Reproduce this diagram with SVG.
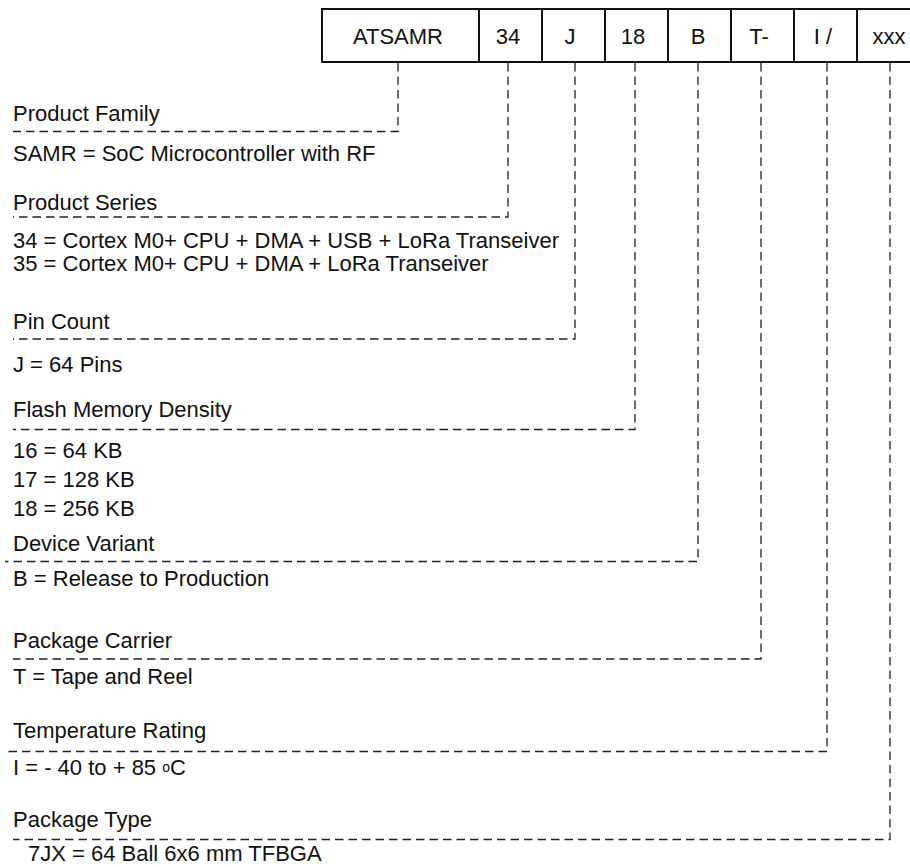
<svg xmlns="http://www.w3.org/2000/svg" width="910" height="867" viewBox="0 0 910 867">
<style>
  text { font-family: "Liberation Sans", Arial, sans-serif; font-size: 22px; fill: #111; }
  .box { fill: #fff; stroke: #111; stroke-width: 2; }
  .mid { text-anchor: middle; }
  .dash { fill: none; stroke: #222; stroke-width: 1.3; stroke-dasharray: 8.5 5; }
</style>
<rect width="910" height="867" fill="#fff"/>
<g id="code">
  <g id="seg-atsamr"><rect class="box" x="322" y="9" width="157" height="53"/><text class="mid" x="398" y="44">ATSAMR</text></g>
  <g id="seg-34"><rect class="box" x="479" y="9" width="63" height="53"/><text class="mid" x="508" y="44">34</text></g>
  <g id="seg-j"><rect class="box" x="542" y="9" width="63" height="53"/><text class="mid" x="570" y="44">J</text></g>
  <g id="seg-18"><rect class="box" x="605" y="9" width="63" height="53"/><text class="mid" x="633" y="44">18</text></g>
  <g id="seg-b"><rect class="box" x="668" y="9" width="63" height="53"/><text class="mid" x="698" y="44">B</text></g>
  <g id="seg-t"><rect class="box" x="731" y="9" width="63" height="53"/><text class="mid" x="759" y="44">T-</text></g>
  <g id="seg-i"><rect class="box" x="794" y="9" width="63" height="53"/><text class="mid" x="823" y="44">I /</text></g>
  <g id="seg-xxx"><rect class="box" x="857" y="9" width="70" height="53"/><text class="mid" x="889" y="44">xxx</text></g>
</g>
<g id="connectors">
  <polyline class="dash" points="398,63 398,131.5 13,131.5"/>
  <polyline class="dash" points="508,63 508,217 13,217"/>
  <polyline class="dash" points="575,63 575,339 13,339"/>
  <polyline class="dash" points="635,63 635,429.5 13,429.5"/>
  <polyline class="dash" points="698,63 698,561.5 5,561.5"/>
  <polyline class="dash" points="761,63 761,659 13,659"/>
  <polyline class="dash" points="827,63 827,751.5 5,751.5"/>
  <polyline class="dash" points="890,63 890,839.5 13,839.5"/>
</g>
<g id="product-family"><text x="13" y="121">Product Family</text><text x="13" y="161">SAMR = SoC Microcontroller with RF</text></g>
<g id="product-series"><text x="13" y="210">Product Series</text><text x="13" y="247.5">34 = Cortex M0+ CPU + DMA + USB + LoRa Transeiver</text><text x="13" y="271">35 = Cortex M0+ CPU + DMA + LoRa Transeiver</text></g>
<g id="pin-count"><text x="13" y="329">Pin Count</text><text x="13" y="372">J = 64 Pins</text></g>
<g id="flash"><text x="13" y="416.5">Flash Memory Density</text><text x="13" y="458">16 = 64 KB</text><text x="13" y="486.5">17 = 128 KB</text><text x="13" y="516">18 = 256 KB</text></g>
<g id="device-variant"><text x="13" y="550.5">Device Variant</text><text x="13" y="586">B = Release to Production</text></g>
<g id="package-carrier"><text x="13" y="648">Package Carrier</text><text x="13" y="684">T = Tape and Reel</text></g>
<g id="temperature"><text x="13" y="738">Temperature Rating</text><text x="13" y="775">I = - 40 to + 85 <tspan font-size="14" dy="-3">o</tspan><tspan dy="3">C</tspan></text></g>
<g id="package-type"><text x="13" y="827">Package Type</text><text x="28" y="861">7JX = 64 Ball 6x6 mm TFBGA</text></g>
</svg>
